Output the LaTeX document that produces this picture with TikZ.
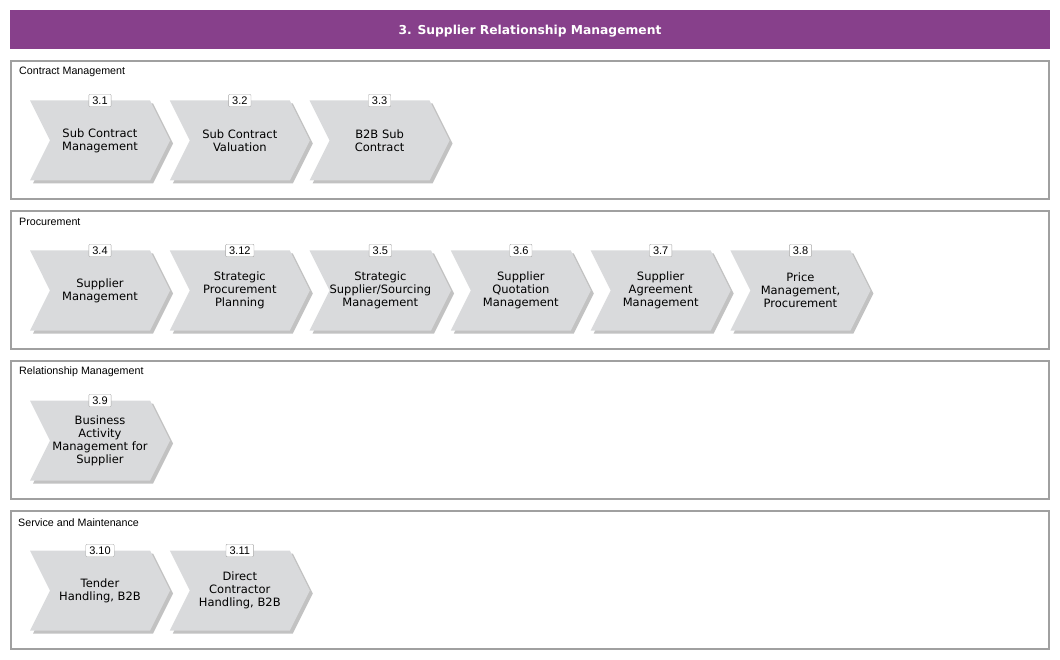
\documentclass[tikz,border=0pt]{standalone}
\usepackage{fontspec}
\setmainfont{Liberation Sans}
\newfontfamily\verdanalike{DejaVu Sans}
\usetikzlibrary{positioning,calc,shapes.symbols,shadows}
\definecolor{srmpurple}{RGB}{135,64,139}
\definecolor{chevgray}{RGB}{217,218,220}
\definecolor{lanegray}{RGB}{160,160,160}

\begin{document}
\begin{tikzpicture}[
  x=1pt,y=-1pt,
  lane/.style={draw=lanegray,line width=1.6pt,outer sep=0pt,inner sep=0pt,
    minimum width=1038pt,minimum height=138pt},
  lanename/.style={anchor=west,inner sep=0pt,font=\fontsize{10.7}{12}\selectfont},
  chev/.style={shape=signal,signal to=east,signal from=west,signal pointer angle=126.87,
    fill=chevgray,minimum width=140pt,minimum height=80pt,inner sep=0pt,outer sep=0pt,
    align=center,font=\verdanalike\fontsize{11.5}{13}\selectfont,
    drop shadow={shadow xshift=3pt,shadow yshift=-3pt,fill=black!40,opacity=.6}},
  tag/.style={draw=gray!70,fill=white,rounded corners=1pt,inner xsep=3.5pt,inner ysep=1.5pt,
    minimum height=12.5pt,font=\fontsize{11}{12}\selectfont},
]
\useasboundingbox (0,0) rectangle (1060,660);

% header
\node[fill=srmpurple,minimum width=1040pt,minimum height=39pt,inner sep=0pt,text=white,
  text depth=0pt,font=\verdanalike\bfseries\fontsize{12.3}{14}\selectfont] (title) at (530,29.5)
  {3. Supplier Relationship Management};

% lanes
\node[lane] (cm) at (530,130) {};
\node[lane] (pr) at (530,280) {};
\node[lane] (rm) at (530,430) {};
\node[lane] (sm) at (530,580) {};
\node[lanename] (cmname) at ($(cm.north west)+(8,11)$) {Contract Management};
\node[lanename] (prname) at ($(pr.north west)+(8,11)$) {Procurement};
\node[lanename] (rmname) at ($(rm.north west)+(8,11)$) {Relationship Management};
\node[lanename] (smname) at ($(sm.north west)+(7,12)$) {Service and Maintenance};

% contract management
\node[chev] (c31) at (100,140.5) {Sub Contract\\Management};
\node[chev,right=19.8pt of c31] (c32) {Sub Contract\\Valuation};
\node[chev,right=19.8pt of c32] (c33) {B2B Sub\\Contract};

% procurement
\node[chev] (c34) at (100,290.5) {Supplier\\Management};
\node[chev,right=19.8pt of c34] (c312) {Strategic\\Procurement\\Planning};
\node[chev,right=19.8pt of c312] (c35) {Strategic\\Supplier/Sourcing\\Management};
\node[chev,right=19.8pt of c35] (c36) {Supplier\\Quotation\\Management};
\node[chev,right=19.8pt of c36] (c37) {Supplier\\Agreement\\Management};
\node[chev,right=19.8pt of c37] (c38) {Price\\Management,\\Procurement};

% relationship management
\node[chev] (c39) at (100,440.5) {Business\\Activity\\Management for\\Supplier};

% service and maintenance
\node[chev] (c310) at (100,590.5) {Tender\\Handling, B2B};
\node[chev,right=19.8pt of c310] (c311) {Direct\\Contractor\\Handling, B2B};

% number tags
\node[tag] (t31) at (c31.north) {3.1};
\node[tag] (t32) at (c32.north) {3.2};
\node[tag] (t33) at (c33.north) {3.3};
\node[tag] (t34) at (c34.north) {3.4};
\node[tag] (t312) at (c312.north) {3.12};
\node[tag] (t35) at (c35.north) {3.5};
\node[tag] (t36) at (c36.north) {3.6};
\node[tag] (t37) at (c37.north) {3.7};
\node[tag] (t38) at (c38.north) {3.8};
\node[tag] (t39) at (c39.north) {3.9};
\node[tag] (t310) at (c310.north) {3.10};
\node[tag] (t311) at (c311.north) {3.11};
\end{tikzpicture}
\end{document}
